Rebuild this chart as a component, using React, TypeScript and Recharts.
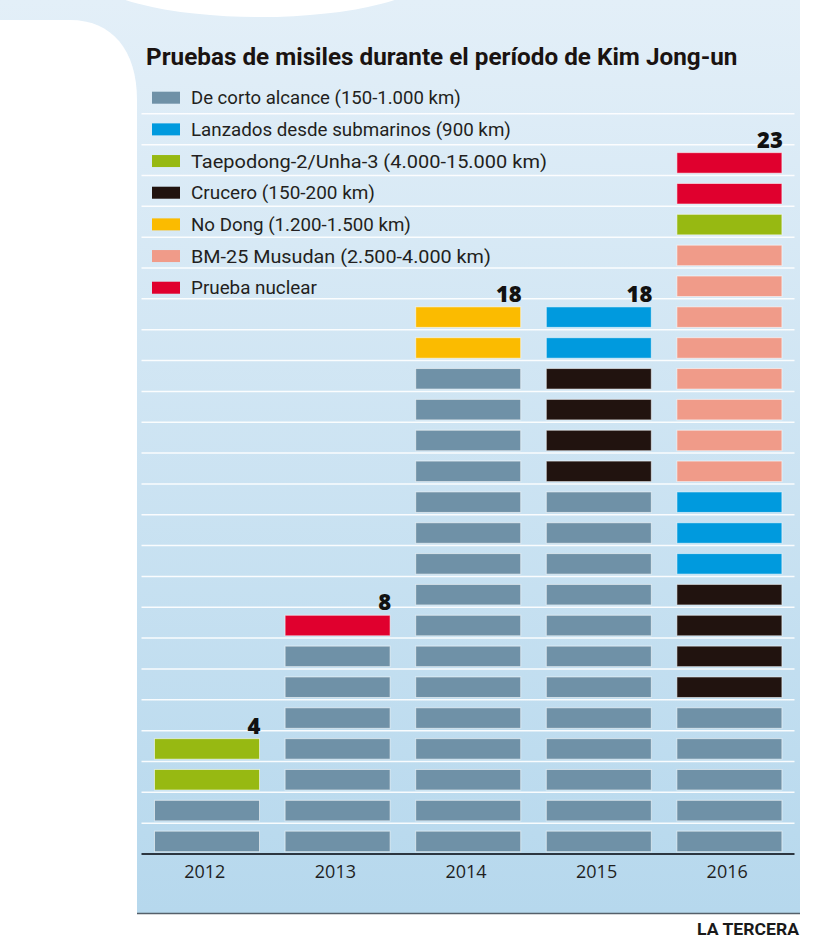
import React, { useLayoutEffect, useRef, useState } from 'react';
import { BarChart, Bar, XAxis, YAxis, CartesianGrid, LabelList } from 'recharts';

// ---- data ----
const years = ['2012', '2013', '2014', '2015', '2016'];
const cortoAlcance = [2, 7, 16, 12, 5];
const crucero = [0, 0, 0, 4, 4];
const submarinos = [0, 0, 0, 2, 3];
const noDong = [0, 0, 2, 0, 0];
const musudan = [0, 0, 0, 0, 8];
const taepodong = [2, 0, 0, 0, 1];
const nuclear = [0, 1, 0, 0, 2];
const totals = [4, 8, 18, 18, 23];
const gridValues = [1, 2, 3, 4, 5, 6, 7, 8, 9, 10, 11, 12, 13, 14, 15, 16, 17, 18, 19, 20, 21, 22, 23, 24];

const title = 'Pruebas de misiles durante el período de Kim Jong-un';
const source = 'LA TERCERA';

// stack order bottom -> top
const series = [
  { key: 'corto', name: 'De corto alcance (150-1.000 km)', color: '#6f91a7', values: cortoAlcance },
  { key: 'crucero', name: 'Crucero (150-200 km)', color: '#21130f', values: crucero },
  { key: 'submarinos', name: 'Lanzados desde submarinos (900 km)', color: '#009ade', values: submarinos },
  { key: 'nodong', name: 'No Dong (1.200-1.500 km)', color: '#fbbb00', values: noDong },
  { key: 'musudan', name: 'BM-25 Musudan (2.500-4.000 km)', color: '#f09b89', values: musudan },
  { key: 'taepodong', name: 'Taepodong-2/Unha-3 (4.000-15.000 km)', color: '#97b912', values: taepodong },
  { key: 'nuclear', name: 'Prueba nuclear', color: '#e0002e', values: nuclear },
];
const legendOrder = ['corto', 'submarinos', 'taepodong', 'crucero', 'nodong', 'musudan', 'nuclear'];
// layout: rendered text widths of legend labels (px)
const legendTextWidths = [270, 320, 356, 184, 220, 300, 126];

const data = years.map((year, i) => {
  const row: Record<string, any> = { year };
  series.forEach((s) => { row[s.key] = s.values[i]; });
  return row;
});

const topKey = (i: number) => {
  let k: string | null = null;
  series.forEach((s) => { if (s.values[i] > 0) k = s.key; });
  return k;
};

const UnitBlocks = (props: any) => {
  const { x, y, width, height, payload, fill, k } = props;
  const n = payload ? payload[k] : 0;
  if (!n || !height || height <= 0) return null;
  const unit = height / n;
  return (
    <g>
      {Array.from({ length: n }, (_, i) => {
        const top = y + i * unit;
        return (
          <rect
            key={i}
            x={x}
            y={top + unit * 0.26}
            width={width}
            height={unit * 0.665}
            fill={fill}
            stroke="#ffffff"
            strokeOpacity={0.55}
            strokeWidth={1}
          />
        );
      })}
    </g>
  );
};

const YearTick = (props: any) => {
  const { x, y, payload } = props;
  return (
    <text x={x - 2} y={y} dy={24} textAnchor="middle" fontFamily="'Open Sans', 'Noto Sans', sans-serif" fontSize={18} fill="#1f1f1f">
      {payload.value}
    </text>
  );
};

const FONT = "Roboto, 'Noto Sans', sans-serif";

// text horizontally scaled to a target width (real text, measured at runtime)
const FitText = (props: { x: number; y: number; width: number; children: string; [k: string]: any }) => {
  const { x, y, width, children, ...rest } = props;
  const ref = useRef<SVGTextElement>(null);
  const [sx, setSx] = useState(1);
  useLayoutEffect(() => {
    if (ref.current) {
      const natural = ref.current.getComputedTextLength();
      if (natural > 0) setSx(width / natural);
    }
  }, [width, children]);
  return (
    <g transform={`translate(${x},${y}) scale(${sx},1)`}>
      <text ref={ref} x={0} y={0} {...rest}>
        {children}
      </text>
    </g>
  );
};

export default function App() {
  const W = 820;
  const H = 943;
  return (
    <div style={{ position: 'absolute', left: 0, top: 0, width: W, height: H, background: '#ffffff' }}>
      <svg width={W} height={H} style={{ position: 'absolute', left: 0, top: 0 }}>
        <defs>
          <linearGradient id="panelBg" x1="0" y1="0" x2="0" y2="1">
            <stop offset="0%" stopColor="#e3eff8" />
            <stop offset="100%" stopColor="#b6d8ed" />
          </linearGradient>
        </defs>
        <rect x={0} y={0} width={800} height={913} fill="url(#panelBg)" />
        <path d="M0,20 H70 C112,20 137,50 137,100 V943 H0 Z" fill="#ffffff" />
        <ellipse cx={260} cy={-28} rx={172} ry={45} fill="#ffffff" />
        <line x1={137} x2={800} y1={913.5} y2={913.5} stroke="#55606a" strokeWidth={1.5} />
      </svg>
      <div style={{ position: 'absolute', left: 0, top: 0 }}>
        <BarChart width={W} height={H} data={data} margin={{ top: 113.8, right: 25.5, bottom: 59, left: 141.5 }} barSize={105}>
          <CartesianGrid vertical={false} horizontalValues={gridValues} stroke="#ffffff" strokeWidth={1.5} strokeOpacity={0.9} />
          <XAxis
            dataKey="year"
            height={30}
            tickLine={false}
            tickSize={0}
            tickMargin={0}
            axisLine={{ stroke: '#2c3640', strokeWidth: 2 }}
            tick={<YearTick />}
          />
          <YAxis hide type="number" domain={[0, 24]} ticks={gridValues} allowDataOverflow />
          {series.map((s) => (
            <Bar
              key={s.key}
              dataKey={s.key}
              name={s.name}
              stackId="a"
              fill={s.color}
              isAnimationActive={false}
              shape={(p: any) => <UnitBlocks {...p} k={s.key} />}
            >
              <LabelList
                dataKey={s.key}
                content={(p: any) => {
                  if (p.index == null || topKey(p.index) !== s.key) return null;
                  return (
                    <text
                      x={Number(p.x) + Number(p.width) + 1}
                      y={Number(p.y) + 3}
                      textAnchor="end"
                      fontFamily="'Open Sans', 'Noto Sans', sans-serif"
                      fontWeight={800}
                      fontSize={22}
                      fill="#111111"
                    >
                      {totals[p.index]}
                    </text>
                  );
                }}
              />
            </Bar>
          ))}
        </BarChart>
      </div>
      <svg width={W} height={H} style={{ position: 'absolute', left: 0, top: 0, pointerEvents: 'none' }}>
        <FitText x={146} y={65} width={592} fontFamily={FONT} fontWeight={700} fontSize={24} fill="#1a1311">
          {title}
        </FitText>
        {legendOrder.map((k, i) => {
          const s = series.find((d) => d.key === k)!;
          const cy = 97.7 + i * 31.67;
          return (
            <g key={k}>
              <rect x={152} y={cy - 6} width={28} height={12} fill={s.color} />
              <FitText x={191} y={cy + 6.5} width={legendTextWidths[i]} fontFamily={FONT} fontSize={18.5} fill="#231f20">
                {s.name}
              </FitText>
            </g>
          );
        })}
        <FitText x={697} y={935} width={102} fontFamily={FONT} fontWeight={700} fontSize={17} fill="#1a1a1a">
          {source}
        </FitText>
      </svg>
    </div>
  );
}
